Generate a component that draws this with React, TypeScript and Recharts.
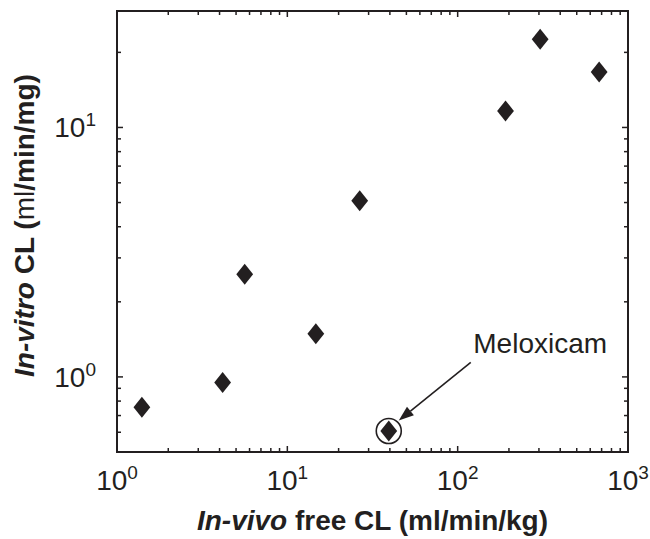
import { ScatterChart, Scatter, XAxis, YAxis } from 'recharts';

const INK = '#231f20';
const FONT = '"Liberation Sans", Arial, Helvetica, sans-serif';

// in-vivo free CL (ml/min/kg) vs in-vitro CL
const invivoFreeCL = [1.4, 4.17, 5.62, 14.7, 26.6, 39.4, 191, 305, 677];
const invitroCL = [0.755, 0.95, 2.58, 1.49, 5.08, 0.607, 11.65, 22.6, 16.7];
const compoundLabels = ['', '', '', '', '', 'Meloxicam', '', '', ''];

const xTicks = [
  1, 2, 3, 4, 5, 6, 7, 8, 9,
  10, 20, 30, 40, 50, 60, 70, 80, 90,
  100, 200, 300, 400, 500, 600, 700, 800, 900, 1000,
];
const yTicks = [0.5, 0.6, 0.7, 0.8, 0.9, 1, 2, 3, 4, 5, 6, 7, 8, 9, 10, 20];

const xDomain = [1, 1000];
const yDomain = [0.5, 29.3];

const points = invivoFreeCL.map((x, i) => ({ x, y: invitroCL[i], label: compoundLabels[i] }));

const decadeExp = (v: number) => {
  const l = Math.log10(v);
  return Math.abs(l - Math.round(l)) < 1e-9 ? Math.round(l) : null;
};

const tickLen = (v: number) => (decadeExp(v) !== null ? 6 : 4);

function PowerLabel({ x, y, exp, anchor }: { x: number; y: number; exp: number; anchor: string }) {
  return (
    <text x={x} y={y} textAnchor={anchor} fontSize={28} fill={INK} fontFamily={FONT}>
      10
      <tspan fontSize={19} dy={-11}>
        {exp}
      </tspan>
    </text>
  );
}

function BottomTick({ x, y, payload }: any) {
  const exp = decadeExp(payload.value);
  return (
    <g>
      <line x1={x} x2={x} y1={y} y2={y - tickLen(payload.value)} stroke={INK} strokeWidth={1.5} />
      {exp !== null && <PowerLabel x={x} y={y + 38} exp={exp} anchor="middle" />}
    </g>
  );
}

function TopTick({ x, y, payload }: any) {
  return <line x1={x} x2={x} y1={y} y2={y + tickLen(payload.value)} stroke={INK} strokeWidth={1.5} />;
}

function LeftTick({ x, y, payload }: any) {
  const exp = decadeExp(payload.value);
  return (
    <g>
      <line x1={x} x2={x + tickLen(payload.value)} y1={y} y2={y} stroke={INK} strokeWidth={1.5} />
      {exp !== null && <PowerLabel x={x - 21} y={y + 10} exp={exp} anchor="end" />}
    </g>
  );
}

function RightTick({ x, y, payload }: any) {
  return <line x1={x} x2={x - tickLen(payload.value)} y1={y} y2={y} stroke={INK} strokeWidth={1.5} />;
}

function Diamond({ cx, cy, payload }: any) {
  const hw = 8.4;
  const hh = 10.5;
  const d = `M${cx},${cy - hh} L${cx + hw},${cy} L${cx},${cy + hh} L${cx - hw},${cy} Z`;
  if (!payload?.label) return <path d={d} fill={INK} />;

  // annotated compound: ring, arrow and name
  const sx = cx + 82;
  const sy = cy - 68.6;
  const tx = cx + 10;
  const ty = cy - 10.5;
  const len = Math.hypot(tx - sx, ty - sy);
  const ux = (tx - sx) / len;
  const uy = (ty - sy) / len;
  const head = 15;
  const half = 5.5;
  const bx = tx - ux * head;
  const by = ty - uy * head;
  return (
    <g>
      <path d={d} fill={INK} />
      <circle cx={cx} cy={cy} r={12.5} fill="none" stroke={INK} strokeWidth={1.6} />
      <line x1={sx} y1={sy} x2={bx} y2={by} stroke={INK} strokeWidth={1.6} />
      <polygon
        points={`${tx},${ty} ${bx - uy * half},${by + ux * half} ${bx + uy * half},${by - ux * half}`}
        fill={INK}
      />
      <text x={cx + 84.5} y={cy - 78} fontSize={28} fill={INK} fontFamily={FONT}>
        {payload.label}
      </text>
    </g>
  );
}

const axisLine = { stroke: INK, strokeWidth: 2, strokeLinecap: 'square' as const };

export default function App() {
  return (
    <div style={{ position: 'absolute', left: 0, top: 0, background: '#fff' }}>
      <ScatterChart width={650} height={539} margin={{ top: 0, right: 0, bottom: 0, left: 0 }}>
        <XAxis
          dataKey="x"
          type="number"
          scale="log"
          domain={xDomain}
          allowDataOverflow
          ticks={xTicks}
          interval={0}
          height={87}
          tickSize={0}
          tickMargin={0}
          tickLine={false}
          axisLine={axisLine}
          tick={BottomTick}
          label={{
            content: ({ viewBox }: any) => (
              <text
                x={viewBox.x + viewBox.width / 2}
                y={viewBox.y + 78}
                textAnchor="middle"
                fontSize={28}
                fontWeight="bold"
                fill={INK}
                fontFamily={FONT}
              >
                <tspan fontStyle="italic">In-vivo</tspan> free CL (ml/min/kg)
              </text>
            ),
          }}
        />
        <XAxis
          xAxisId="top"
          orientation="top"
          dataKey="x"
          type="number"
          scale="log"
          domain={xDomain}
          allowDataOverflow
          ticks={xTicks}
          interval={0}
          height={11}
          tickSize={0}
          tickMargin={0}
          tickLine={false}
          axisLine={axisLine}
          tick={TopTick}
        />
        <YAxis
          dataKey="y"
          type="number"
          scale="log"
          domain={yDomain}
          allowDataOverflow
          ticks={yTicks}
          interval={0}
          width={117}
          tickSize={0}
          tickMargin={0}
          tickLine={false}
          axisLine={axisLine}
          tick={LeftTick}
          label={{
            content: ({ viewBox }: any) => {
              const cx = 34;
              const cy = viewBox.y + viewBox.height / 2 - 6;
              return (
                <text
                  x={cx}
                  y={cy}
                  transform={`rotate(-90 ${cx} ${cy})`}
                  textAnchor="middle"
                  fontSize={28}
                  fontWeight="bold"
                  fill={INK}
                  fontFamily={FONT}
                >
                  <tspan fontStyle="italic">In-vitro</tspan> CL (<tspan fontWeight="normal">ml</tspan>/min/mg)
                </text>
              );
            },
          }}
        />
        <YAxis
          yAxisId="right"
          orientation="right"
          dataKey="y"
          type="number"
          scale="log"
          domain={yDomain}
          allowDataOverflow
          ticks={yTicks}
          interval={0}
          width={22}
          tickSize={0}
          tickMargin={0}
          tickLine={false}
          axisLine={axisLine}
          tick={RightTick}
        />
        <Scatter data={points} shape={Diamond} isAnimationActive={false} />
      </ScatterChart>
    </div>
  );
}
